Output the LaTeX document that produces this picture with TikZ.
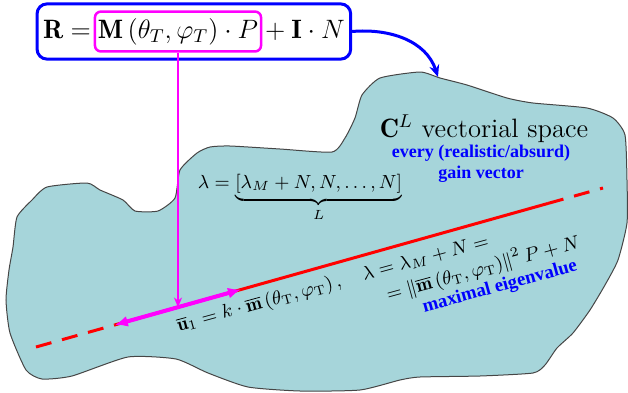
\RequirePackage{fix-cm}
\documentclass[tikz,border=0pt]{standalone}
\usepackage{amsmath,amssymb}
\usepackage{fontspec}
\newfontfamily\timesfont{Liberation Serif}
\usetikzlibrary{arrows.meta,calc,fit}
\definecolor{blobfill}{RGB}{166,213,218}
\definecolor{blobline}{RGB}{70,70,70}
\definecolor{mag}{RGB}{255,0,255}
\definecolor{bl}{RGB}{0,0,255}
\definecolor{rd}{RGB}{255,0,0}
\tikzset{
  bigfont/.style={font=\fontsize{13.3}{16}\selectfont},
  midfont/.style={font=\fontsize{9.6}{11.5}\selectfont},
  bluebold/.style={font=\timesfont\bfseries\fontsize{9}{11}\selectfont, text=bl},
  mbox/.style={draw=mag, line width=1.25pt, rounded corners=3pt, inner xsep=1.5pt, minimum height=18.5pt},
  bbox/.style={draw=bl, line width=1.5pt, rounded corners=5pt, inner xsep=1.6pt, inner ysep=3.2pt},
  redline/.style={rd, line width=1.5pt},
  reddash/.style={rd, line width=1.5pt, dash pattern=on 8pt off 5.5pt},
}
\begin{document}
\begin{tikzpicture}[x=0.5pt,y=-0.5pt]
\useasboundingbox (0,0) rectangle (628,392);
% blob
\draw[blobline, line width=0.5pt, fill=blobfill] plot[smooth cycle, tension=0.35] coordinates {
 (6,300) (9,270) (13,247) (17,217) (32,200) (47,187) (87,183) (100,190) (123,200) (135,211)
 (158,211) (175,198) (180,170) (197,153) (210,147) (230,146) (280,149) (332,152) (345,138)
 (355,118) (362,95) (380,78) (420,72) (440,78) (467,85) (507,98) (533,103) (587,108)
 (613,118) (625,135) (627,180) (627,223) (618,260) (605,285) (590,310) (573,333) (557,348)
 (545,365) (533,373) (480,376) (420,377) (400,380) (360,390) (300,391) (248,387) (208,373)
 (176,359) (128,357) (72,376) (42,379) (26,370) (10,333)};
% red line
\coordinate (A) at (36,347);
\coordinate (B) at (603,188);
\coordinate (r1) at ($(A)!0.139!(B)$);
\coordinate (r2) at ($(A)!0.903!(B)$);
\coordinate (d2) at ($(A)!0.3616!(B)$);
\coordinate (hit) at ($(A)!0.2487!(B)$);
\draw[reddash] (A) -- (r1);
\draw[redline] (r1) -- (r2);
\draw[reddash] (r2) -- (B);
% formula
\node[mbox, bigfont] (M) at (178,31.5) {$\mathbf{M}\left(\theta_T,\varphi_T\right)\cdot P$};
\node[bigfont, anchor=base east, inner xsep=1.2pt] (R) at (M.base west) {$\mathbf{R}\mskip\thickmuskip\mathord{=}$};
\node[bigfont, anchor=base west, inner xsep=1.2pt] (N) at (M.base east) {$\mathord{+}\mskip\medmuskip\mathbf{I}\cdot N$};
\node[bbox, fit=(R)(M)(N)] (F) {};
% arrows
\coordinate (tipB) at (438,77);
\draw[bl, line width=1.5pt, -{Stealth[length=6pt,width=5pt]}] (F.east) to[out=5,in=108] (tipB);
\draw[mag, line width=1pt, -{Stealth[length=5pt,width=4pt]}] (M.south) -- (M.south |- hit);
\draw[mag, line width=2pt, {Latex[length=6.5pt,width=5.5pt]}-{Latex[length=6.5pt,width=5.5pt]}] (r1) -- (d2);
% texts
\node[bigfont, anchor=base] (CL) at (484,137) {$\mathbf{C}^L$ vectorial space};
\node[bluebold, anchor=base] (ev) at (481,157) {every (realistic/absurd)};
\node[bluebold, anchor=base] (gv) at (481,178) {gain vector};
\node[font=\fontsize{9.5}{11}\selectfont, anchor=base] (lam) at (300,188) {$\lambda=\underbrace{[\lambda_M+N,N,\ldots,N]}_{L}$};
\node[midfont, rotate=15.3, inner sep=1pt] (u1) at (333,284) {$\overline{\mathbf{u}}_1=k\cdot\overline{\mathbf{m}}\left(\theta_{\mathrm{T}},\varphi_{\mathrm{T}}\right),\quad\lambda=\lambda_M+N=$};
\node[midfont, rotate=15.3, inner sep=1pt] (l2) at (483,268) {$=\left\|\overline{\mathbf{m}}\left(\theta_{\mathrm{T}},\varphi_{\mathrm{T}}\right)\right\|^2P+N$};
\node[bluebold, font=\timesfont\bfseries\fontsize{9.4}{11}\selectfont, rotate=15.3, inner sep=1pt] (me) at (500,287) {maximal eigenvalue};
\end{tikzpicture}
\end{document}
